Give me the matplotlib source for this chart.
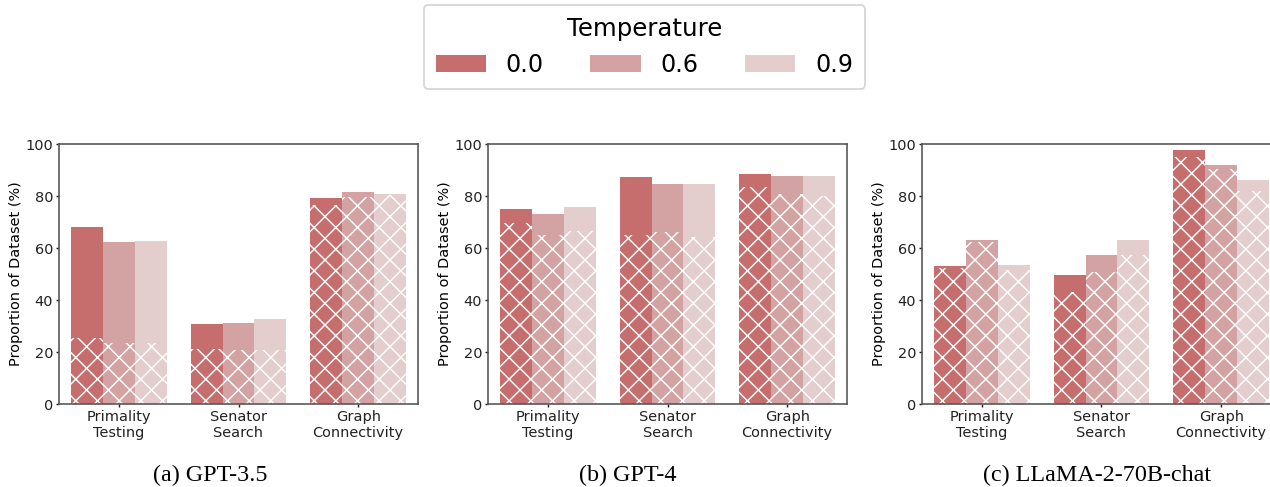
import matplotlib
matplotlib.use("Agg")
import matplotlib.pyplot as plt
import numpy as np
from matplotlib.patches import Patch

DPI = 130
plt.rcParams['hatch.linewidth'] = 0.8
plt.rcParams['font.family'] = ['DejaVu Sans']

categories = ["Primality\nTesting", "Senator\nSearch", "Graph\nConnectivity"]
temperatures = ["0.0", "0.6", "0.9"]
colors = ["#c66e6e", "#d3a3a3", "#e3cdcd"]
titles = ["(a) GPT-3.5", "(b) GPT-4", "(c) LLaMA-2-70B-chat"]

# total heights per model: rows = temperature, cols = category
gpt35_total = [[68.1, 30.8, 79.2], [62.3, 31.2, 81.5], [62.7, 32.7, 80.8]]
gpt35_hatch = [[25.3, 21.2, 76.7], [23.3, 20.8, 79.6], [23.3, 20.8, 80.4]]
gpt4_total = [[75.0, 87.3, 88.5], [73.1, 84.6, 87.7], [75.8, 84.6, 87.7]]
gpt4_hatch = [[69.5, 64.9, 83.3], [64.9, 66.0, 80.8], [66.5, 64.1, 79.9]]
llama_total = [[53.1, 49.6, 97.7], [63.1, 57.3, 91.9], [53.5, 63.1, 86.2]]
llama_hatch = [[52.2, 42.9, 94.9], [62.2, 50.6, 90.3], [51.5, 57.3, 82.1]]

models = [(gpt35_total, gpt35_hatch), (gpt4_total, gpt4_hatch), (llama_total, llama_hatch)]

W, H = 1270, 487
fig = plt.figure(figsize=(W / DPI, H / DPI), dpi=DPI)

lefts_px = [59, 488, 922]
ax_w, ax_top, ax_bot = 359, 144, 404
caption_x = [210, 628, 1097]

fs = 8.0
group_w = 0.8
bw = group_w / len(temperatures)
x = np.arange(len(categories))

for k, (tot, hat) in enumerate(models):
    ax = fig.add_axes([lefts_px[k] / W, 1 - ax_bot / H, ax_w / W, (ax_bot - ax_top) / H])
    for i, t in enumerate(temperatures):
        pos = x - group_w / 2 + bw * (i + 0.5)
        ax.bar(pos, tot[i], width=bw, color=colors[i], linewidth=0)
        ax.bar(pos, hat[i], width=bw, color=colors[i], edgecolor="white",
               linewidth=0, hatch="xx")
    ax.set_xlim(-0.5, 2.5)
    ax.set_ylim(0, 100)
    ax.set_xticks(x)
    ax.set_xticklabels(categories, fontsize=fs, linespacing=1.2)
    ax.set_yticks([0, 20, 40, 60, 80, 100])
    ax.tick_params(axis='y', labelsize=fs, colors='#222222', length=1.6, pad=1.6)
    ax.tick_params(axis='x', colors='#222222', length=1.6, pad=1.6)
    ax.set_ylabel("Proportion of Dataset (%)", fontsize=fs, labelpad=1.5)
    for s in ax.spines.values():
        s.set_color('#555555')
        s.set_linewidth(0.9)
    fig.text(caption_x[k] / W, 1 - 475 / H, titles[k], ha='center', va='center',
             fontsize=13.4, family='Liberation Serif')

handles = [Patch(facecolor=c, edgecolor='none') for c in colors]
leg = fig.legend(handles, temperatures, title="Temperature", ncol=3,
                 loc='center', bbox_to_anchor=(644.5 / W, 1 - 47 / H),
                 fontsize=13.2, title_fontsize=13.5, handlelength=2.1,
                 handleheight=0.75, handletextpad=0.85, columnspacing=1.95,
                 frameon=True, borderpad=0.5)
leg.get_frame().set_edgecolor('#cccccc')

fig.savefig("out.png", dpi=DPI)
